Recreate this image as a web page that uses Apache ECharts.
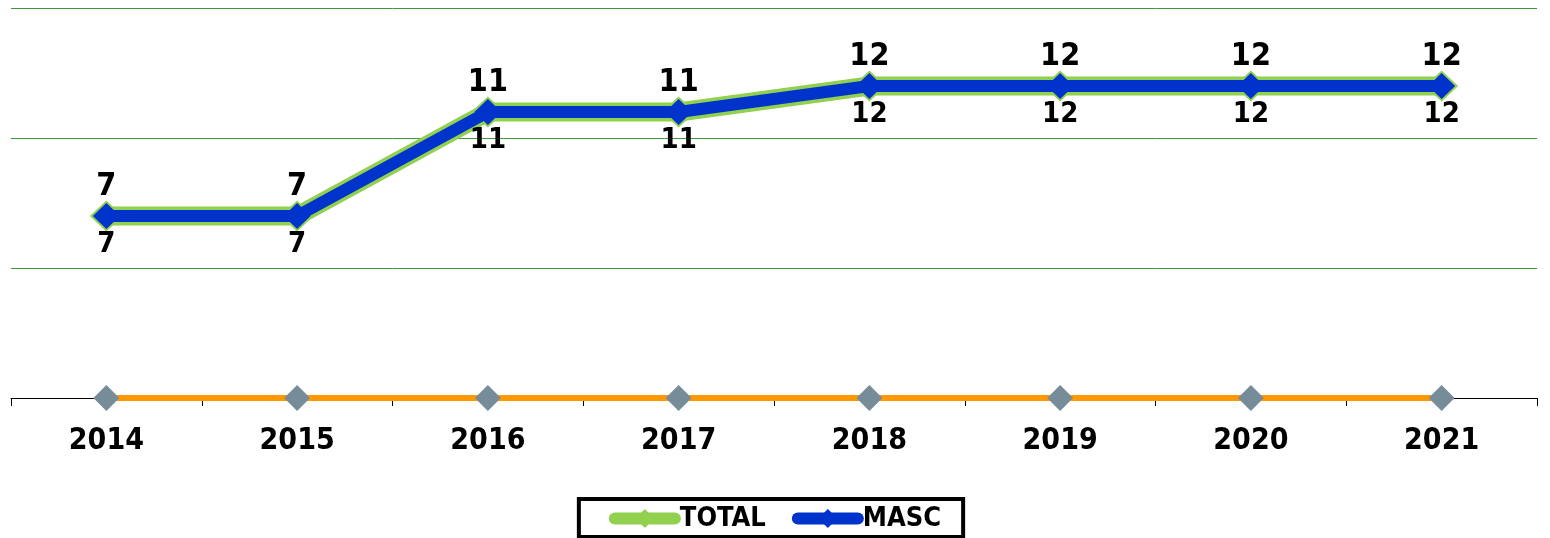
<!DOCTYPE html>
<html><head><meta charset="utf-8">
<script src="https://cdn.jsdelivr.net/npm/echarts@6/dist/echarts.min.js"></script>
<style>html,body{margin:0;padding:0;background:#fff}#c{width:1550px;height:538px}</style>
</head><body><div id="c"></div>
<script>
const years = ['2014','2015','2016','2017','2018','2019','2020','2021'];
const total = [7, 7, 11, 11, 12, 12, 12, 12];
const masc = [7, 7, 11, 11, 12, 12, 12, 12];
const fem = [0, 0, 0, 0, 0, 0, 0, 0];
const FONT = "'Liberation Sans Narrow','DejaVu Sans Condensed',sans-serif";
const chart = echarts.init(document.getElementById('c'));
chart.setOption({
  animation: false,
  grid: {left: 11, right: 13, top: 8, bottom: 140, containLabel: false},
  legend: {
    data: [
      {name: 'TOTAL'},
      {name: 'MASC'}
    ],
    bottom: 1, left: 'center',
    borderColor: '#000', borderWidth: 4, padding: [6, 22, 5, 30],
    itemWidth: 60, itemHeight: 24, itemGap: 26,
    lineStyle: {width: 12, cap: 'round'},
    textStyle: {fontFamily: FONT, fontWeight: 'bold', fontSize: 27, color: '#000', padding: [0, 0, 0, 0]}
  },
  xAxis: {
    type: 'category', data: years,
    axisLine: {lineStyle: {color: '#000', width: 1}},
    axisTick: {show: true, length: 8, lineStyle: {color: '#000'}},
    axisLabel: {fontFamily: FONT, fontWeight: 'bold', fontSize: 30, color: '#000', margin: 28}
  },
  yAxis: {
    type: 'value', min: 0, max: 15, interval: 5,
    axisLine: {show: false}, axisTick: {show: false}, axisLabel: {show: false},
    splitLine: {lineStyle: {color: '#3A9A3A', width: 1}}
  },
  series: [
    {
      name: 'FEM', type: 'line', data: fem, z: 3,
      symbol: 'diamond', symbolSize: 26,
      lineStyle: {color: '#FF9900', width: 6},
      itemStyle: {color: '#778C99'},
      label: {show: false}
    },
    {
      name: 'TOTAL', type: 'line', data: total, z: 4,
      symbol: 'diamond', symbolSize: [33, 31],
      lineStyle: {color: '#92D050', width: 19},
      itemStyle: {color: '#92D050'},
      label: {show: true, position: 'top', distance: -2, fontFamily: FONT, fontWeight: 'bold', fontSize: 32, color: '#000'}
    },
    {
      name: 'MASC', type: 'line', data: masc, z: 5,
      symbol: 'diamond', symbolSize: [27, 26],
      lineStyle: {color: '#0033CC', width: 12},
      itemStyle: {color: '#0033CC'},
      label: {show: true, position: 'bottom', distance: 1, fontFamily: FONT, fontWeight: 'bold', fontSize: 29, color: '#000'}
    }
  ]
});
</script></body></html>
